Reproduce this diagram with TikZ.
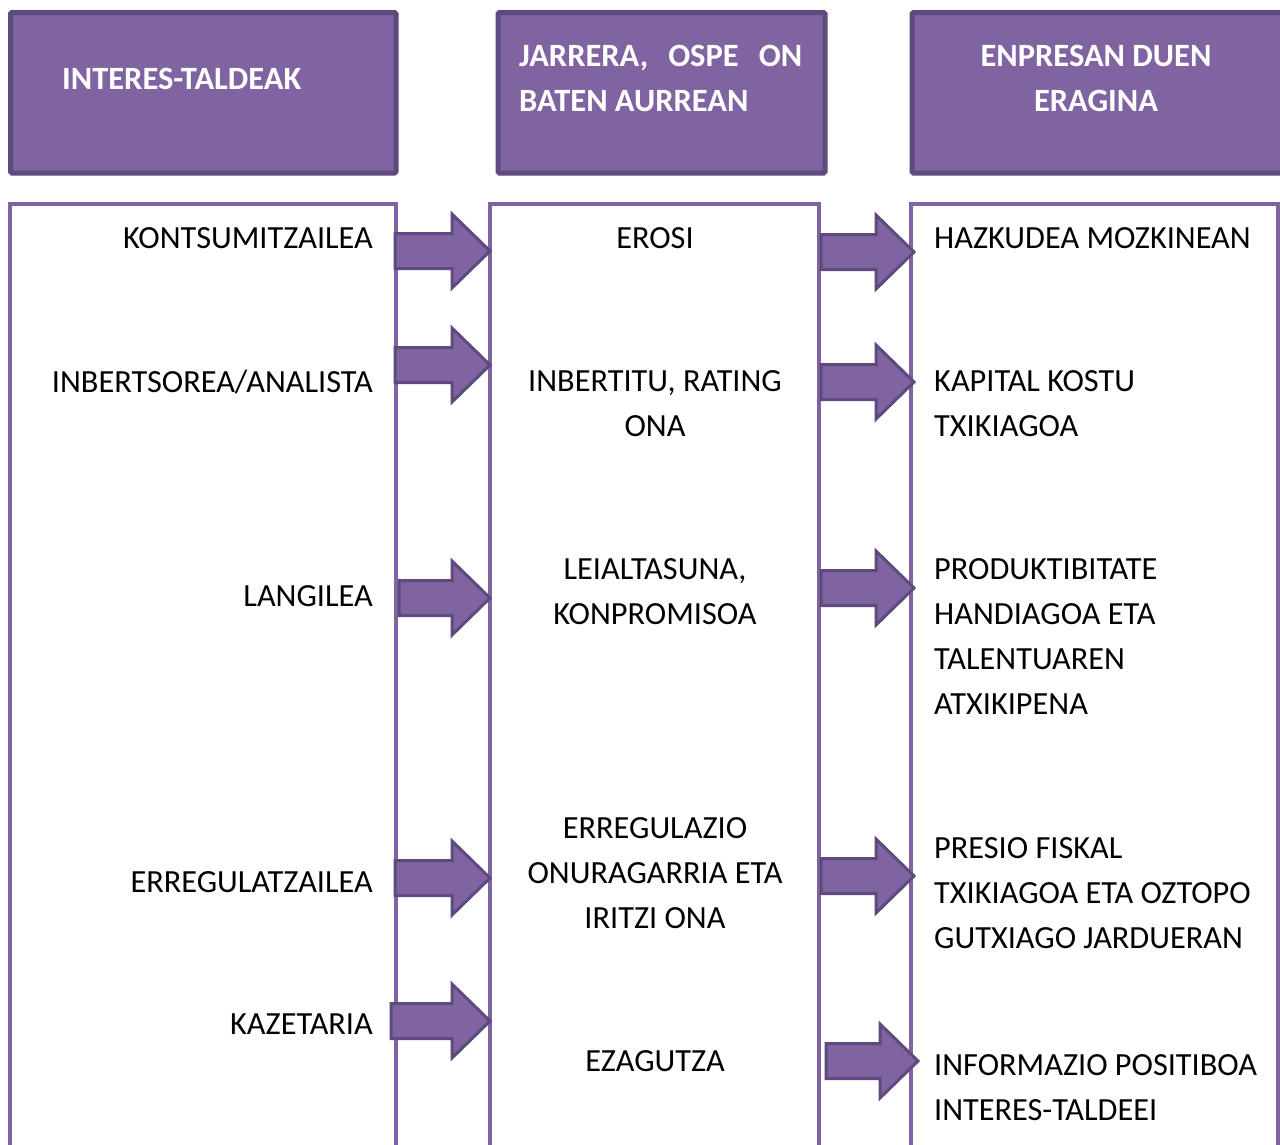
\documentclass[tikz,border=0pt]{standalone}
\usepackage{fontspec}
\setmainfont{Carlito}
\definecolor{pfill}{HTML}{8064A2}
\definecolor{pdark}{HTML}{5D4A7E}
\definecolor{pline}{HTML}{8064A2}
\newcommand\blockarr[4]{%
  \draw[arrowshape] (#2,#4-17.5) -- (#3-38,#4-17.5) -- (#3-38,#4-37) -- (#3,#4)
    -- (#3-38,#4+37) -- (#3-38,#4+17.5) -- (#2,#4+17.5) -- cycle;
  \coordinate (#1) at (#3,#4);}
\begin{document}
\begin{tikzpicture}[x=1pt,y=-1pt,
  header/.style={draw=pdark,fill=pfill,line width=5pt,rounded corners=1.5pt},
  colbox/.style={draw=pline,line width=4pt},
  arrowshape/.style={draw=pdark,fill=pfill,line width=3pt,line join=miter},
  htext/.style={text=white,font=\fontsize{32.5}{45}\selectfont\bfseries,inner sep=0pt},
  btext/.style={text=black,font=\fontsize{32.3}{45}\selectfont,inner sep=0pt}]
\useasboundingbox (0,0) rectangle (1280,1144);
% header boxes
\draw[header] (10.5,12.5) rectangle (396,173);
\draw[header] (498,12.5) rectangle (825,173);
\draw[header] (912,12.5) rectangle (1292,173);
\node[htext,anchor=north west] (h1) at (62,68) {INTERES-TALDEAK};
\node[htext,anchor=north west,align=left] (h2) at (519,45)
  {\makebox[283pt]{JARRERA,\hfill OSPE\hfill ON}\\BATEN AURREAN};
\node[htext,anchor=north,align=center] (h3) at (1096,45) {ENPRESAN DUEN\\ERAGINA};
% column boxes
\draw[colbox] (9.5,1160) -- (9.5,204) -- (396,204) -- (396,1160);
\draw[colbox] (490,1160) -- (490,204) -- (819,204) -- (819,1160);
\draw[colbox] (911,1160) -- (911,204) -- (1278,204) -- (1278,1160);
% left column
\node[btext,anchor=north east] (l1) at (373,227) {KONTSUMITZAILEA};
\node[btext,anchor=north east] (l2) at (373,370) {INBERTSOREA/ANALISTA};
\node[btext,anchor=north east] (l3) at (373,585) {LANGILEA};
\node[btext,anchor=north east] (l4) at (373,871) {ERREGULATZAILEA};
\node[btext,anchor=north east] (l5) at (373,1014) {KAZETARIA};
% middle column
\node[btext,anchor=north,align=center] (m1) at (655,227) {EROSI};
\node[btext,anchor=north,align=center] (m2) at (655,370) {INBERTITU, RATING\\ONA};
\node[btext,anchor=north,align=center] (m3) at (655,558) {LEIALTASUNA,\\KONPROMISOA};
\node[btext,anchor=north,align=center] (m4) at (655,817) {ERREGULAZIO\\ONURAGARRIA ETA\\IRITZI ONA};
\node[btext,anchor=north,align=center] (m5) at (655,1050) {EZAGUTZA};
% right column
\node[btext,anchor=north west,align=left] (r1) at (934,227) {HAZKUDEA MOZKINEAN};
\node[btext,anchor=north west,align=left] (r2) at (934,370) {KAPITAL KOSTU\\TXIKIAGOA};
\node[btext,anchor=north west,align=left] (r3) at (934,558) {PRODUKTIBITATE\\HANDIAGOA ETA\\TALENTUAREN\\ATXIKIPENA};
\node[btext,anchor=north west,align=left] (r4) at (934,837) {PRESIO FISKAL\\TXIKIAGOA ETA OZTOPO\\GUTXIAGO JARDUERAN};
\node[btext,anchor=north west,align=left] (r5) at (934,1054) {INFORMAZIO POSITIBOA\\INTERES-TALDEEI};
% arrows left -> middle
\blockarr{a1}{395}{490}{251}
\blockarr{a2}{395}{490}{365}
\blockarr{a3}{399}{490}{598}
\blockarr{a4}{395}{490}{878}
\blockarr{a5}{391}{490}{1021}
% arrows middle -> right
\blockarr{b1}{821}{914}{252}
\blockarr{b2}{821}{914}{382}
\blockarr{b3}{821}{914}{588}
\blockarr{b4}{821}{914}{876}
\blockarr{b5}{826}{918}{1061}
\end{tikzpicture}
\end{document}
